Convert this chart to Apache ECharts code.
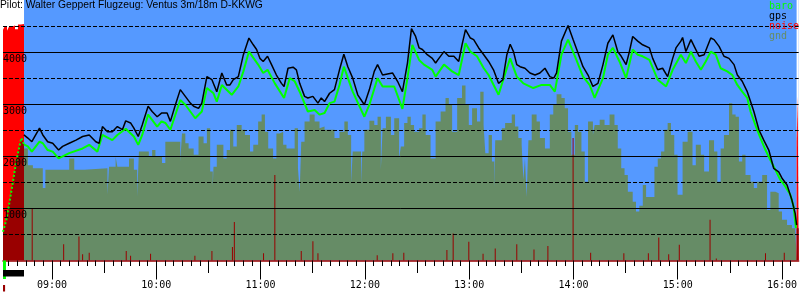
<!DOCTYPE html>
<html>
<head>
<meta charset="utf-8">
<script src="https://cdn.jsdelivr.net/npm/echarts@6/dist/echarts.min.js"></script>
<style>html,body{margin:0;padding:0;background:#fff}#main{width:800px;height:300px}</style>
</head>
<body>
<div id="main"></div>
<script>
// all times are minutes after midnight
var axisMin = 511.8, axisMax = 969.6;
var flightStart = 523.9, flightEnd = 968.4;

var gpsAlt = [[523.8,2410],[526.1,2350],[528.4,2280],[532.8,2540],[534.7,2410],[537.5,2280],[540.4,2250],[543.8,2120],[546.1,2190],[549.9,2250],[553.8,2310],[557.6,2380],[561.4,2410],[565.2,2280],[567.1,2250],[569.0,2570],[571.9,2470],[574.7,2470],[577.6,2570],[580.5,2510],[582.4,2680],[585.2,2640],[587.1,2540],[589.6,2380],[591.9,2600],[595.3,2960],[597.6,2860],[600.5,2760],[603.0,2830],[606.2,2830],[608.1,2670],[611.0,2990],[613.8,3280],[616.7,3150],[619.6,3020],[621.5,2960],[624.3,2920],[626.2,3020],[629.1,3530],[632.0,3470],[634.8,3240],[637.7,3600],[640.5,3370],[642.4,3370],[644.3,3470],[647.2,3530],[650.1,3950],[653.3,4270],[655.8,4140],[657.7,4050],[659.6,3880],[661.5,3820],[664.0,3920],[666.3,3760],[669.1,3560],[672.0,3400],[673.5,3340],[675.8,3690],[678.7,3710],[680.6,3660],[682.5,3400],[685.3,3150],[687.2,3120],[690.1,3150],[693.0,3020],[694.9,3120],[696.8,3050],[699.7,3210],[702.5,3280],[705.4,3660],[707.9,3960],[710.2,3720],[713.0,3500],[715.9,3180],[719.7,2990],[722.6,3280],[725.4,3630],[727.3,3760],[730.2,3560],[733.0,3580],[735.9,3600],[738.8,3440],[741.6,3240],[744.5,3790],[746.8,4450],[749.2,4300],[751.2,4080],[753.1,4050],[755.9,3950],[758.8,3880],[760.7,3790],[762.6,3880],[765.5,4010],[768.3,3920],[771.2,3920],[774.0,3820],[775.9,4140],[777.9,4430],[780.7,4270],[782.6,4240],[785.5,4080],[788.4,3950],[791.2,3820],[794.0,3660],[796.9,3400],[799.4,3470],[801.7,3950],[803.6,4150],[805.5,4010],[807.4,3760],[809.3,3720],[812.1,3690],[815.0,3600],[817.9,3560],[820.7,3600],[823.6,3690],[826.4,3530],[828.7,3500],[830.3,3600],[833.1,4210],[836.9,4510],[839.8,4240],[842.7,3980],[845.5,3720],[848.4,3560],[851.2,3340],[854.1,3400],[857.0,3760],[859.8,4170],[862.7,4330],[865.5,4010],[867.5,3920],[870.3,3760],[872.2,4010],[874.1,4300],[877.0,4210],[879.8,4140],[883.7,4080],[885.6,3880],[888.5,3660],[891.3,3690],[894.2,3530],[897.1,3880],[899.0,4080],[901.8,4210],[902.8,4280],[904.7,4010],[907.6,4240],[909.5,4110],[912.3,3920],[915.2,3950],[919.0,4270],[920.9,4240],[923.8,4110],[926.6,3920],[929.5,3880],[932.4,3760],[934.3,3560],[937.1,3440],[940.0,3240],[941.9,3050],[943.8,2860],[946.7,2510],[949.5,2310],[952.4,2120],[955.2,1770],[958.1,1700],[960.0,1580],[962.9,1450],[965.7,1160],[967.6,900],[968.4,680]];

var baroAlt = [[523.8,2230],[526.1,2190],[528.4,2090],[532.8,2280],[534.7,2250],[537.5,2120],[540.4,2090],[543.8,1960],[549.9,2060],[557.6,2150],[561.4,2220],[566.1,2090],[569.0,2410],[574.7,2310],[577.6,2410],[582.4,2530],[587.1,2380],[589.6,2220],[591.9,2410],[595.3,2800],[600.5,2570],[603.0,2670],[605.2,2640],[608.1,2510],[613.8,3080],[616.7,2990],[622.4,2730],[626.2,2860],[629.1,3310],[632.9,3210],[634.8,3050],[637.7,3370],[643.4,3180],[647.2,3340],[650.1,3630],[653.3,4010],[658.6,3760],[661.5,3600],[664.0,3660],[668.2,3400],[673.5,3120],[676.8,3500],[679.6,3440],[682.5,3240],[687.2,2860],[691.1,2890],[693.9,2800],[696.8,2830],[699.7,3020],[702.5,3050],[705.4,3370],[707.9,3720],[713.0,3240],[719.7,2760],[722.6,2990],[727.3,3500],[730.2,3340],[736.9,3340],[741.6,2910],[744.5,3500],[747.3,4140],[751.2,3850],[754.0,3760],[758.8,3660],[760.7,3530],[765.5,3760],[770.2,3630],[774.0,3560],[777.9,4170],[780.7,4010],[784.5,3920],[788.4,3690],[791.2,3560],[796.9,3180],[801.7,3690],[803.6,3880],[807.4,3530],[811.2,3400],[816.9,3310],[821.7,3370],[826.4,3370],[829.3,3240],[833.1,3950],[836.9,4240],[841.7,3850],[845.5,3530],[849.3,3370],[852.2,3120],[857.0,3500],[859.8,3950],[862.7,4080],[866.5,3820],[870.3,3500],[874.1,4050],[877.0,3950],[879.8,3920],[883.7,3850],[888.5,3470],[893.3,3340],[897.1,3660],[901.8,3950],[904.7,3790],[907.6,4010],[910.4,3820],[913.3,3660],[916.1,3820],[919.0,4010],[921.9,3950],[924.7,3690],[928.5,3630],[931.4,3560],[934.3,3370],[937.1,3240],[940.0,3120],[941.9,2860],[944.7,2600],[947.6,2350],[950.5,2120],[953.3,1930],[956.2,1740],[959.0,1550],[961.9,1420],[964.8,1260],[966.7,1030],[968.0,620]];

// baro while the engine runs (climb) and after touchdown
var baroMotor = [[511.8,550],[513.7,780],[515.6,1130],[517.5,1510],[519.4,1900],[521.0,2150],[522.3,2350],[523.9,2230]];
var baroLanding = [[968.4,620],[969.6,620]];

var gndAlt = [[523.8,2150],[526.1,1830],[529.0,1770],[534.7,1390],[536.2,1740],[549.9,1960],[552.8,1740],[558.5,1770],[571.9,1260],[572.8,1800],[576.6,1990],[577.6,1800],[584.3,1960],[587.1,1740],[589.0,1220],[590.0,2090],[595.7,1990],[597.6,2120],[599.5,1990],[603.3,1870],[605.2,2280],[613.8,1900],[614.8,2440],[616.7,2250],[618.6,2150],[621.5,2030],[624.3,2380],[627.2,2250],[629.1,2540],[631.0,1710],[632.5,1420],[632.9,1800],[634.8,2220],[638.6,1960],[640.5,2120],[642.4,2510],[644.3,2190],[646.3,2600],[649.1,2510],[651.0,2410],[653.9,2090],[655.8,2220],[658.6,2670],[660.6,2800],[662.5,2470],[664.4,2150],[667.2,1960],[669.1,2440],[671.0,2470],[673.0,2220],[674.9,2150],[679.6,2540],[681.5,1770],[682.5,1320],[683.4,2280],[685.3,2670],[688.2,2800],[691.1,2670],[693.9,2540],[694.9,2570],[696.8,2510],[702.5,2350],[705.4,2470],[708.2,2670],[710.2,2410],[712.1,1480],[713.0,2090],[717.8,1480],[718.5,2090],[719.7,2510],[722.6,2680],[725.4,2600],[727.3,2760],[729.2,1740],[730.2,2540],[732.1,2760],[735.0,2410],[736.9,2730],[739.7,1960],[740.7,2190],[742.6,2640],[744.5,2760],[746.4,2600],[748.3,2470],[751.2,2540],[753.1,2800],[755.0,2410],[757.8,1960],[760.7,2670],[763.6,2860],[766.4,3120],[768.3,2990],[770.2,2470],[773.1,3120],[775.9,3360],[777.9,2990],[779.8,2600],[781.7,2920],[784.5,2670],[786.4,3240],[788.3,2600],[789.3,2060],[791.2,2410],[793.1,1900],[794.4,1390],[795.0,2310],[798.8,2540],[800.7,2640],[804.5,2800],[806.4,2570],[808.3,2350],[810.2,2220],[811.2,1550],[812.1,1960],[813.1,1220],[814.1,2310],[816.0,2800],[818.8,2670],[820.7,2350],[823.6,2150],[826.4,2800],[828.4,2990],[830.3,3190],[833.1,3120],[835.0,2920],[836.9,2470],[838.8,2030],[840.8,2600],[842.7,2470],[844.6,2090],[846.5,1510],[848.4,2670],[851.2,2410],[852.2,2600],[855.1,2700],[857.9,2600],[860.8,2800],[863.6,2600],[865.5,2150],[867.5,1770],[869.4,1640],[871.3,1320],[874.1,1130],[876.0,940],[877.9,1050],[879.9,1450],[881.8,1220],[886.6,1800],[888.5,1960],[890.4,2090],[892.3,2510],[894.2,2640],[896.1,2410],[898.0,2030],[899.9,1260],[902.8,2280],[905.7,2470],[908.5,1830],[910.4,2220],[913.3,2030],[915.2,1710],[918.0,2310],[920.9,2090],[922.8,1510],[924.7,2150],[926.6,2410],[929.5,3020],[931.4,2800],[933.3,2760],[935.2,1900],[937.1,2030],[939.0,1640],[941.9,1510],[943.8,1390],[945.7,1510],[948.6,1640],[951.4,970],[953.3,1320],[956.2,1290],[958.1,940],[960.0,780],[962.9,680],[965.7,620],[967.6,550],[968.6,550]];

var noiseSpikes = [[528.6,1000],[546.7,310],[555.5,460],[557.6,120],[561.4,150],[582.7,180],[585.2,90],[596.7,130],[622.2,90],[632.0,180],[643.8,260],[644.9,740],[661.7,140],[668.2,1640],[683.4,180],[690.1,370],[693.0,140],[727.1,100],[736.1,140],[742.4,150],[767.2,200],[770.8,520],[779.8,360],[788.0,130],[795.0,230],[807.4,310],[817.3,210],[825.3,280],[839.8,2350],[849.9,150],[869.0,140],[883.1,140],[889.1,440],[894.8,120],[900.9,300],[918.6,780],[922.2,40],[950.5,140],[961.3,150]];
var noiseMotor = [[511.8,4430],[512.9,4500],[514.1,4410],[515.2,4480],[516.4,4470],[517.5,4510],[518.7,4440],[520.4,4530],[522.1,4540],[523.9,4540]];
var noiseLanding = [[968.4,2260],[969.0,3150],[969.6,3150]];

// phase marks under the time axis: start, end
var phaseBars = [[511.8,513.5],[511.8,523.9],[511.8,513.0]];

var solidLevels = [1000, 2000, 3000, 4000];
var dashedLevels = [500, 1500, 2500, 3500, 4500];
var yLabels = [1000, 2000, 3000, 4000];
var legendNames = ['baro', 'gps', 'noise', 'gnd'];

var hourTicks = [], halfTicks = [], fiveTicks = [];
for (var t = 515; t <= 965; t += 5) {
  if (t % 60 == 0) hourTicks.push(t);
  else if (t % 30 == 0) halfTicks.push(t);
  else fiveTicks.push(t);
}

var skyColor = '#5599ff';
var gndColor = '#668c66';
var monoFont = 'DejaVu Sans Mono';

function hhmm(v) {
  var h = Math.floor(v / 60), m = Math.round(v % 60);
  return (h < 10 ? '0' : '') + h + ':' + (m < 10 ? '0' : '') + m;
}

function tickAxis(values, len, showLine, showLabel) {
  return {
    type: 'value', min: axisMin, max: axisMax, position: 'bottom', z: 8,
    splitLine: {show: false},
    axisLine: {show: showLine, lineStyle: {color: '#990000', width: 1.5}},
    axisTick: {show: true, customValues: values, length: len, lineStyle: {color: '#000', width: 1}},
    axisLabel: {
      show: showLabel, customValues: values, formatter: hhmm, margin: 20,
      fontFamily: monoFont, fontSize: 10, color: '#000'
    }
  };
}

var myChart = echarts.init(document.getElementById('main'));

var gridLines = [];
solidLevels.forEach(function (v) {
  gridLines.push({yAxis: v, lineStyle: {type: 'solid'}});
});
dashedLevels.forEach(function (v) {
  gridLines.push({yAxis: v, lineStyle: {type: [4, 2]}});
});

myChart.setOption({
  animation: false,
  title: {
    text: 'Pilot: Walter Geppert Flugzeug: Ventus 3m/18m D-KKWG',
    left: 0, top: 0, padding: 0,
    textStyle: {fontFamily: 'Liberation Sans', fontSize: 10.3, fontWeight: 'normal', color: '#000'}
  },
  grid: {left: 0, right: 0, top: 0, bottom: 39.5, show: true, backgroundColor: skyColor, borderWidth: 0},
  xAxis: [
    tickAxis(hourTicks, 19, true, true),
    tickAxis(halfTicks, 12.5, false, false),
    tickAxis(fiveTicks, 5.5, false, false)
  ],
  yAxis: {
    type: 'value', min: 0, max: 5000, interval: 1000, z: 10,
    splitLine: {show: false}, axisLine: {show: false}, axisTick: {show: false},
    axisLabel: {
      inside: true, margin: 0, verticalAlign: 'top', padding: [2.5, 0, 0, 0],
      color: '#000', fontFamily: monoFont, fontSize: 10,
      formatter: function (v) { return yLabels.indexOf(v) >= 0 ? String(v) : ''; }
    }
  },
  graphic: legendNames.map(function (name, i) {
    var cols = ['#00ff00', '#000000', '#ff0000', gndColor];
    return {
      type: 'text', left: 769, top: 1 + i * 10, z: 20,
      style: {text: name, fill: cols[i], font: '10px ' + monoFont}
    };
  }),
  series: [
    {
      type: 'line', data: [], z: 1, silent: true,
      markArea: {
        silent: true, itemStyle: {color: '#ffffff'},
        data: [[{xAxis: axisMin}, {xAxis: flightStart}], [{xAxis: flightEnd}, {xAxis: axisMax}]]
      }
    },
    {
      name: 'gnd', type: 'line', data: gndAlt, step: 'end', symbol: 'none', z: 2,
      lineStyle: {width: 0}, areaStyle: {color: gndColor, opacity: 1}
    },
    {
      name: 'noise', type: 'bar', data: noiseSpikes, barWidth: 1, z: 3,
      itemStyle: {color: '#990000'}
    },
    {
      type: 'line', data: noiseMotor, step: 'end', symbol: 'none', z: 3,
      lineStyle: {width: 0}, areaStyle: {color: '#ff0000', opacity: 1}
    },
    {
      type: 'line', data: noiseLanding, step: 'end', symbol: 'none', z: 3,
      lineStyle: {width: 0}, areaStyle: {color: '#ff0000', opacity: 1}
    },
    {
      type: 'line', data: baroMotor, symbol: 'none', z: 4,
      lineStyle: {width: 0}, areaStyle: {color: '#990000', opacity: 1}
    },
    {
      type: 'line', data: baroLanding, symbol: 'none', z: 4,
      lineStyle: {width: 0}, areaStyle: {color: '#990000', opacity: 1}
    },
    {
      type: 'line', data: [], z: 5, silent: true,
      markLine: {
        silent: true, symbol: ['none', 'none'], label: {show: false},
        lineStyle: {color: '#000', width: 1},
        data: gridLines
      }
    },
    {
      type: 'line', data: baroMotor, symbol: 'none', z: 6,
      lineStyle: {color: '#00ff00', width: 2, type: 'dotted'}
    },
    {
      name: 'baro', type: 'line', data: baroAlt, symbol: 'none', z: 6,
      lineStyle: {color: '#00ff00', width: 2}
    },
    {
      name: 'gps', type: 'line', data: gpsAlt, symbol: 'none', z: 7,
      lineStyle: {color: '#000000', width: 1.5}
    },
    {
      type: 'custom', data: phaseBars, clip: false, z: 9, silent: true,
      renderItem: function (params, api) {
        var s = api.coord([api.value(0), 0]);
        var e = api.coord([api.value(1), 0]);
        var rows = [[0, 18.5, '#00ff00'], [9.5, 6.5, '#000000'], [24.5, 6.5, '#990000']];
        var r = rows[params.dataIndex];
        return {
          type: 'rect',
          shape: {x: s[0], y: s[1] + r[0], width: e[0] - s[0], height: r[1]},
          style: {fill: r[2]}
        };
      }
    }
  ]
});
</script>
</body>
</html>
